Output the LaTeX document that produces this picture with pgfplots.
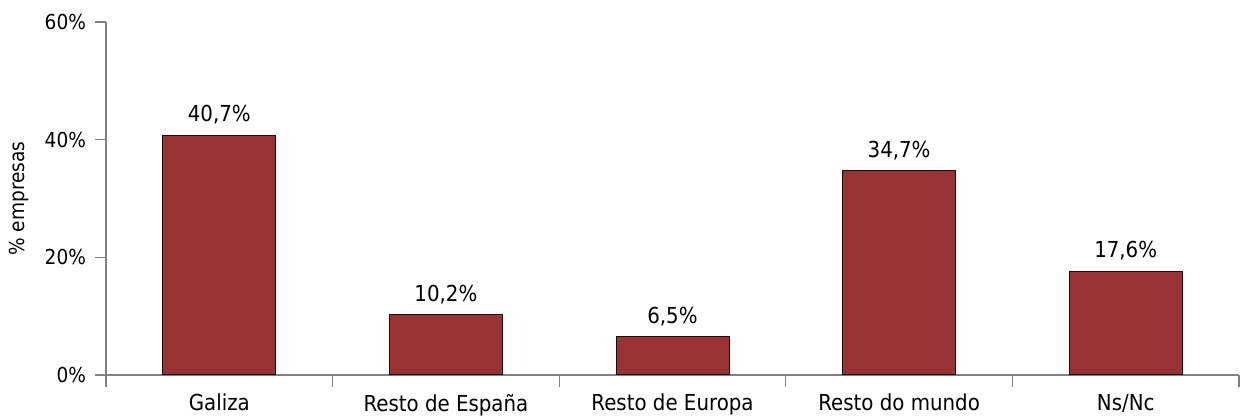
\documentclass[border=0pt]{standalone}
\usepackage{pgfplots}
\pgfplotsset{compat=1.18}
\usepackage{fontspec}
\setmainfont[FakeStretch=0.9]{DejaVu Sans}
\definecolor{barred}{RGB}{153,51,51}
\definecolor{axgray}{RGB}{128,128,128}
\begin{document}
\begin{tikzpicture}
\begin{axis}[
  name=ax,
  scale only axis,
  width=566.5pt, height=176.5pt,
  ymin=0, ymax=60,
  xmin=-0.5, xmax=4.5,
  axis lines*=left,
  axis line style={axgray, line width=0.6pt},
  ytick={0,20,40,60},
  yticklabel={\pgfmathprintnumber{\tick}\%},
  /pgf/number format/assume math mode=true,
  xtick={0,1,2,3,4},
  xticklabels={Galiza, Resto de España, Resto de Europa, Resto do mundo, Ns/Nc},
  minor xtick={-0.5,0.5,1.5,2.5,3.5,4.5},
  major x tick style={draw=none},
  minor x tick style={axgray, line width=0.6pt},
  y tick style={axgray, line width=0.6pt},
  tick align=outside,
  major tick length=5.5pt,
  minor tick length=6pt,
  yticklabel style={font=\fontsize{10.3}{12}\selectfont, xshift=-1pt},
  xticklabel style={font=\fontsize{11}{13}\selectfont, yshift=-0.5pt},
  ylabel={\% empresas},
  ylabel style={font=\fontsize{10.3}{12}\selectfont},
  ylabel shift=1pt,
  ybar,
  bar width=56.5pt,
  nodes near coords={\pgfmathprintnumber[fixed,precision=1,fixed zerofill,use comma]{\pgfplotspointmeta}\%},
  every node near coord/.append style={font=\fontsize{11}{13}\selectfont, black, yshift=2pt},
]
\addplot[fill=barred, draw=black!80!barred, line width=0.5pt] coordinates {(0,40.7) (1,10.2) (2,6.5) (3,34.7) (4,17.6)};
\end{axis}
\pgfresetboundingbox
\path (ax.south west) ++(-53pt,-20.5pt) rectangle ++(620.5pt,208pt);
\end{tikzpicture}
\end{document}
